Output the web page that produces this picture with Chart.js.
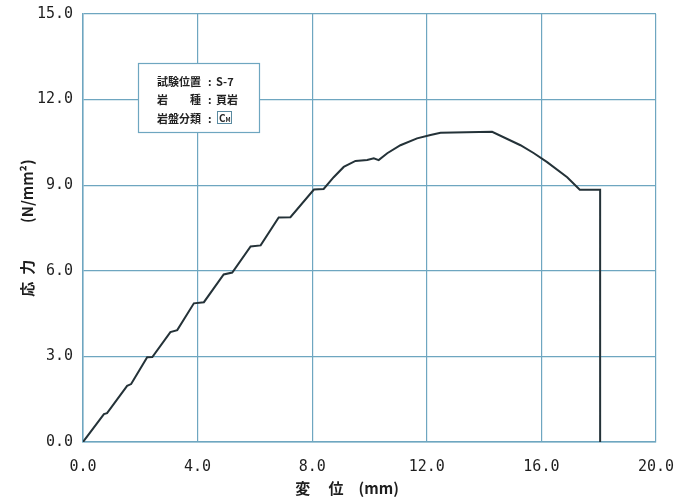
<!DOCTYPE html>
<html>
<head>
<meta charset="utf-8">
<script src="https://cdn.jsdelivr.net/npm/chart.js@4"></script>
<style>
  html, body { margin: 0; padding: 0; background: #fff; }
  #box { width: 677px; height: 502px; }
</style>
</head>
<body>
<div id="box"><canvas id="stressChart"></canvas></div>
<script>
// ========================
// DATA
// ========================

// 変位 (mm)
const displacement = [
  0, 0.73, 0.84, 1.54, 1.68, 2.24, 2.42, 3.05, 3.29, 3.87, 4.22,
  4.91, 5.21, 5.85, 6.20, 6.83, 7.24, 8.06, 8.40, 8.75, 9.10,
  9.51, 9.92, 10.15, 10.32, 10.62, 11.08, 11.66, 12.13, 12.48,
  14.28, 15.27, 15.74, 16.20, 16.90, 17.34, 18.05, 18.05
];

// 応力 (N/mm2)
const stress = [
  0, 0.98, 1.01, 1.97, 2.03, 2.97, 2.98, 3.85, 3.92, 4.86, 4.90,
  5.87, 5.94, 6.85, 6.89, 7.87, 7.88, 8.85, 8.87, 9.28, 9.64,
  9.85, 9.88, 9.94, 9.88, 10.12, 10.40, 10.64, 10.76, 10.84,
  10.87, 10.40, 10.12, 9.81, 9.28, 8.84, 8.84, 0
];

const xTicks = [0, 4, 8, 12, 16, 20];
const yTicks = [0, 3, 6, 9, 12, 15];

// 情報ボックスの項目
const infoLabels = ['試験位置', '岩', '岩盤分類'];
const infoValues = ['S-7', '頁岩', ''];
const rockClass = ['C', 'M'];

const gridColor = '#6ea6c0';
const monoFont = "'DejaVu Sans Mono', monospace";
const jpFont = "'Noto Sans CJK JP', sans-serif";

// ========================
// 情報ボックス
// ========================

const infoBox = {
  id: 'infoBox',
  afterDatasetsDraw(chart) {
    const c = chart.ctx;
    c.save();
    c.fillStyle = '#fff';
    c.fillRect(138, 63, 121, 69);
    c.strokeStyle = gridColor;
    c.lineWidth = 1.2;
    c.strokeRect(138.5, 63.5, 121, 69);

    c.fillStyle = '#222';
    c.font = "bold 11px " + jpFont;
    c.textBaseline = 'middle';
    c.textAlign = 'left';
    const ys = [82, 100, 118.5];
    infoLabels.forEach((t, i) => {
      c.fillText(t, 157, ys[i]);
      c.fillText(':', 208, ys[i]);
      c.fillText(infoValues[i], 216, ys[i]);
    });
    c.fillText('種', 190, ys[1]);

    // 岩盤分類の枠
    c.strokeStyle = '#5a8aa0';
    c.lineWidth = 1;
    c.strokeRect(217.5, 111.5, 14, 12);
    c.font = "bold 10px " + jpFont;
    c.fillText(rockClass[0], 219, 118);
    c.font = "bold 6px " + jpFont;
    c.fillText(rockClass[1], 225.5, 120);
    c.restore();
  }
};

// ========================
// グラフ
// ========================

const ctx = document.getElementById('stressChart');

new Chart(ctx, {
  type: 'scatter',
  data: {
    datasets: [{
      data: displacement.map((x, i) => ({ x: x, y: stress[i] })),
      showLine: true,
      borderColor: '#243238',
      borderWidth: 2,
      pointRadius: 0,
      tension: 0
    }]
  },
  options: {
    responsive: true,
    maintainAspectRatio: false,
    animation: false,
    layout: { padding: { top: 14, right: 21, left: 0, bottom: 0 } },
    plugins: {
      legend: { display: false },
      tooltip: { enabled: false }
    },
    scales: {
      x: {
        type: 'linear',
        min: 0,
        max: 20,
        afterBuildTicks: (s) => { s.ticks = xTicks.map(v => ({ value: v })); },
        afterFit: (s) => { s.height = 60; s.paddingRight = 0; s.paddingLeft = 0; },
        border: { color: gridColor, width: 1.5 },
        grid: { color: gridColor, lineWidth: 1.2, drawTicks: false },
        ticks: {
          padding: 16,
          color: '#1e1e1e',
          font: { family: monoFont, size: 15 },
          callback: (v) => Number(v).toFixed(1)
        },
        title: {
          display: true,
          text: '変　 位　(mm)　　　',
          color: '#1e1e1e',
          font: { family: jpFont, size: 15, weight: 'bold' },
          padding: { top: 0, bottom: 5 }
        }
      },
      y: {
        type: 'linear',
        min: 0,
        max: 15,
        afterBuildTicks: (s) => { s.ticks = yTicks.map(v => ({ value: v })); },
        afterFit: (s) => { s.width = 83; s.paddingTop = 0; s.paddingBottom = 0; },
        border: { color: gridColor, width: 1.5 },
        grid: { color: gridColor, lineWidth: 1.2, drawTicks: false },
        ticks: {
          padding: 10,
          color: '#1e1e1e',
          font: { family: monoFont, size: 15 },
          callback: (v) => Number(v).toFixed(1)
        },
        title: {
          display: true,
          text: '応  力　　  (N/mm²)',
          color: '#1e1e1e',
          font: { family: jpFont, size: 15, weight: 'bold' },
          padding: { top: 18, bottom: 0 }
        }
      }
    }
  },
  plugins: [infoBox]
});
</script>
</body>
</html>
